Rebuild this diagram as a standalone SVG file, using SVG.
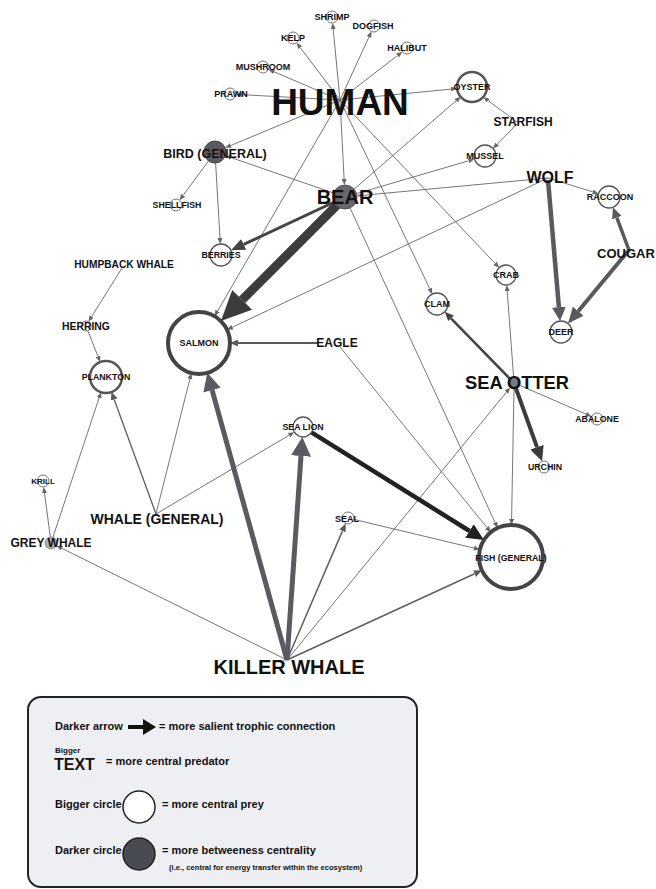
<svg xmlns="http://www.w3.org/2000/svg" width="656" height="889" viewBox="0 0 656 889">
<style>
text{font-family:"Liberation Sans",Arial,sans-serif;font-weight:bold;fill:#111;text-anchor:middle}
.e{stroke:#666;stroke-width:0.9;fill:none}
.n{fill:#fff;stroke:#666;stroke-width:0.9}
.nm{fill:#fff;stroke:#555;stroke-width:1.3}
.lg{text-anchor:start}
</style>
<defs>
<marker id="ms" markerUnits="userSpaceOnUse" viewBox="0 0 6 5" markerWidth="6" markerHeight="5" refX="0" refY="2.5" orient="auto"><path d="M0,0L6,2.5L0,5z" fill="#666"/></marker>
<marker id="mm" markerUnits="userSpaceOnUse" viewBox="0 0 8 7" markerWidth="8" markerHeight="7" refX="0" refY="3.5" orient="auto"><path d="M0,0L8,3.5L0,7z" fill="#5a5a5a"/></marker>
<marker id="mbb" markerUnits="userSpaceOnUse" viewBox="0 0 14 12" markerWidth="14" markerHeight="12" refX="0" refY="6" orient="auto"><path d="M0,0L14,6L0,12z" fill="#444"/></marker>
<marker id="mbs" markerUnits="userSpaceOnUse" viewBox="0 0 30 28" markerWidth="30" markerHeight="28" refX="0" refY="14" orient="auto"><path d="M0,0L30,14L0,28z" fill="#3c3c3e"/></marker>
<marker id="mwd" markerUnits="userSpaceOnUse" viewBox="0 0 14 14" markerWidth="14" markerHeight="14" refX="0" refY="7" orient="auto"><path d="M0,0L14,7L0,14z" fill="#5a5a5e"/></marker>
<marker id="mcr" markerUnits="userSpaceOnUse" viewBox="0 0 11 10" markerWidth="11" markerHeight="10" refX="0" refY="5" orient="auto"><path d="M0,0L11,5L0,10z" fill="#5a5a5e"/></marker>
<marker id="mcd" markerUnits="userSpaceOnUse" viewBox="0 0 16 14" markerWidth="16" markerHeight="14" refX="0" refY="7" orient="auto"><path d="M0,0L16,7L0,14z" fill="#5a5a5e"/></marker>
<marker id="msc" markerUnits="userSpaceOnUse" viewBox="0 0 9 8" markerWidth="9" markerHeight="8" refX="0" refY="4" orient="auto"><path d="M0,0L9,4L0,8z" fill="#444"/></marker>
<marker id="msu" markerUnits="userSpaceOnUse" viewBox="0 0 15 14" markerWidth="15" markerHeight="14" refX="0" refY="7" orient="auto"><path d="M0,0L15,7L0,14z" fill="#3c3c3e"/></marker>
<marker id="mks" markerUnits="userSpaceOnUse" viewBox="0 0 18 18" markerWidth="18" markerHeight="18" refX="0" refY="9" orient="auto"><path d="M0,0L18,9L0,18z" fill="#5a5a60"/></marker>
<marker id="mkl" markerUnits="userSpaceOnUse" viewBox="0 0 19 20" markerWidth="19" markerHeight="20" refX="0" refY="10" orient="auto"><path d="M0,0L19,10L0,20z" fill="#5a5a60"/></marker>
<marker id="mlf" markerUnits="userSpaceOnUse" viewBox="0 0 17 16" markerWidth="17" markerHeight="16" refX="0" refY="8" orient="auto"><path d="M0,0L17,8L0,16z" fill="#222"/></marker>
</defs>
<rect width="656" height="889" fill="#fff"/>
<g id="connectors">
<g class="e" marker-end="url(#ms)">
<line x1="340" y1="100" x2="333.2" y2="29"/>
<line x1="340" y1="100" x2="369" y2="36.9"/>
<line x1="340" y1="100" x2="300.2" y2="47.6"/>
<line x1="340" y1="100" x2="397.6" y2="55.4"/>
<line x1="340" y1="100" x2="274" y2="71.8"/>
<line x1="340" y1="100" x2="242" y2="94.7"/>
<line x1="340" y1="100" x2="451.1" y2="89.1"/>
<line x1="340" y1="100" x2="230.7" y2="145.5"/>
<line x1="340" y1="100" x2="344.1" y2="179"/>
<line x1="340" y1="100" x2="217.6" y2="311"/>
<line x1="340" y1="100" x2="429.7" y2="288.7"/>
<line x1="340" y1="100" x2="495" y2="263.3"/>
<line x1="517" y1="122" x2="488.1" y2="100.6"/>
<line x1="517" y1="124" x2="497.2" y2="144.2"/>
<line x1="345" y1="197" x2="456.2" y2="100.7"/>
<line x1="345" y1="197" x2="468.6" y2="160.8"/>
<line x1="345" y1="197" x2="495.1" y2="522.5"/>
<line x1="345" y1="197" x2="231.1" y2="157.6"/>
<line x1="208.5" y1="160.9" x2="183.1" y2="195.4"/>
<line x1="215.6" y1="163" x2="220" y2="238"/>
<line x1="548" y1="178" x2="363" y2="195.3"/>
<line x1="548" y1="178" x2="232.4" y2="327.2"/>
<line x1="548" y1="178" x2="592.8" y2="191.9"/>
<line x1="122" y1="268" x2="91.7" y2="316.6"/>
<line x1="87.8" y1="330.7" x2="98" y2="356.5"/>
<line x1="340" y1="347" x2="487" y2="527.6"/>
<line x1="513.6" y1="377" x2="507.2" y2="291"/>
<line x1="514" y1="389" x2="511.6" y2="519"/>
<line x1="519" y1="385" x2="586" y2="414.2"/>
<line x1="287" y1="660" x2="506.4" y2="392.2"/>
<line x1="287" y1="660" x2="61.8" y2="548.3"/>
<line x1="50.3" y1="537" x2="44.5" y2="493"/>
<line x1="52.9" y1="537.3" x2="99.1" y2="397.9"/>
<line x1="156" y1="514" x2="189.9" y2="378.9"/>
<line x1="156" y1="514" x2="289.2" y2="435.2"/>
<line x1="353.8" y1="519.4" x2="474" y2="548.1"/>
</g>
<line x1="156" y1="514" x2="114.2" y2="399.5" stroke="#5e5e5e" stroke-width="1.3" marker-end="url(#mm)"/>
<line x1="287" y1="660" x2="342.5" y2="530.9" stroke="#5e5e5e" stroke-width="1.5" marker-end="url(#mm)"/>
<line x1="287" y1="660" x2="474.6" y2="573.7" stroke="#5e5e5e" stroke-width="1.5" marker-end="url(#mm)"/>
<line x1="318" y1="343" x2="238" y2="343" stroke="#5a5a5a" stroke-width="2" marker-end="url(#mm)"/>
<line x1="340" y1="202" x2="242.1" y2="299.9" stroke="#3c3c3e" stroke-width="9" marker-end="url(#mbs)"/>
<line x1="345" y1="197" x2="243.7" y2="244.4" stroke="#444" stroke-width="3" marker-end="url(#mbb)"/>
<line x1="548" y1="180" x2="558.9" y2="307.1" stroke="#5a5a5e" stroke-width="4.5" marker-end="url(#mwd)"/>
<line x1="629" y1="250" x2="616.8" y2="217.6" stroke="#5a5a5e" stroke-width="3.5" marker-end="url(#mcr)"/>
<line x1="629" y1="250" x2="578.2" y2="311.2" stroke="#5a5a5e" stroke-width="4" marker-end="url(#mcd)"/>
<line x1="514" y1="383" x2="451" y2="318.3" stroke="#444" stroke-width="2.5" marker-end="url(#msc)"/>
<line x1="514" y1="383" x2="537" y2="447.2" stroke="#3c3c3e" stroke-width="4" marker-end="url(#msu)"/>
<line x1="287" y1="660" x2="212.1" y2="390.2" stroke="#5a5a60" stroke-width="5" marker-end="url(#mks)"/>
<line x1="287" y1="660" x2="301" y2="456" stroke="#5a5a60" stroke-width="5" marker-end="url(#mkl)"/>
<line x1="311.5" y1="432.3" x2="469.5" y2="531" stroke="#222" stroke-width="4.5" marker-end="url(#mlf)"/>
</g>
<g id="human"><text x="340" y="115" font-size="37">HUMAN</text></g>
<g id="shrimp"><circle class="n" cx="332" cy="17" r="6"/><text x="332" y="20" font-size="9">SHRIMP</text></g>
<g id="dogfish"><circle class="n" cx="374" cy="26" r="6"/><text x="373" y="29" font-size="9">DOGFISH</text></g>
<g id="kelp"><circle class="n" cx="293" cy="38" r="6"/><text x="293" y="41" font-size="9">KELP</text></g>
<g id="halibut"><circle class="n" cx="407" cy="48" r="6"/><text x="407" y="51" font-size="9">HALIBUT</text></g>
<g id="mushroom"><circle class="n" cx="263" cy="67" r="6"/><text x="263" y="70" font-size="9">MUSHROOM</text></g>
<g id="prawn"><circle class="n" cx="230" cy="94" r="6"/><text x="231" y="97" font-size="9">PRAWN</text></g>
<g id="oyster"><circle cx="472" cy="87" r="15" fill="#fff" stroke="#555" stroke-width="2.5"/><text x="472" y="90" font-size="9">OYSTER</text></g>
<g id="starfish"><text x="523" y="126" font-size="12">STARFISH</text></g>
<g id="mussel"><circle class="nm" cx="485" cy="156" r="11"/><text x="485" y="159" font-size="9">MUSSEL</text></g>
<g id="wolf"><text x="550" y="183" font-size="16">WOLF</text></g>
<g id="raccoon"><circle class="nm" cx="609" cy="197" r="11"/><text x="610" y="200" font-size="9">RACCOON</text></g>
<g id="cougar"><text x="626" y="258" font-size="13">COUGAR</text></g>
<g id="crab"><circle class="nm" cx="506" cy="275" r="10"/><text x="506" y="278" font-size="9">CRAB</text></g>
<g id="clam"><circle class="nm" cx="437" cy="304" r="11"/><text x="437" y="307" font-size="9">CLAM</text></g>
<g id="deer"><circle class="nm" cx="561" cy="332" r="11"/><text x="561" y="335" font-size="9">DEER</text></g>
<g id="bird"><circle cx="215" cy="152" r="11" fill="#5c5c60" stroke="#444" stroke-width="1"/><text x="215" y="158" font-size="12.5">BIRD (GENERAL)</text></g>
<g id="bear"><circle cx="345" cy="197" r="12" fill="#68686c" stroke="#555" stroke-width="1"/><text x="345" y="204" font-size="20">BEAR</text></g>
<g id="shellfish"><circle class="n" cx="176" cy="205" r="6"/><text x="177" y="208" font-size="8.8">SHELLFISH</text></g>
<g id="berries"><circle class="nm" cx="221" cy="255" r="11"/><text x="221" y="258" font-size="8.8">BERRIES</text></g>
<g id="humpback"><text x="124" y="268" font-size="10.2">HUMPBACK WHALE</text></g>
<g id="herring"><circle class="n" cx="86" cy="326" r="5"/><text x="86" y="330" font-size="10.4">HERRING</text></g>
<g id="salmon"><circle cx="199" cy="343" r="31" fill="#fff" stroke="#444" stroke-width="4"/><text x="199" y="346" font-size="9">SALMON</text></g>
<g id="plankton"><circle cx="106" cy="377" r="16" fill="#fff" stroke="#555" stroke-width="2.5"/><text x="106" y="380" font-size="8.8">PLANKTON</text></g>
<g id="eagle"><text x="337" y="347" font-size="12">EAGLE</text></g>
<g id="seaotter"><circle cx="514" cy="383" r="6" fill="#7a7a7e" stroke="#666" stroke-width="0.8"/><text x="517" y="389" font-size="18.3">SEA OTTER</text></g>
<g id="abalone"><circle class="n" cx="597" cy="419" r="6"/><text x="597" y="422" font-size="8.8">ABALONE</text></g>
<g id="sealion"><circle class="nm" cx="303" cy="427" r="10"/><text x="303" y="430" font-size="8.8">SEA LION</text></g>
<g id="urchin"><circle class="n" cx="544" cy="467" r="6"/><text x="545" y="470" font-size="8.8">URCHIN</text></g>
<g id="krill"><circle class="n" cx="43" cy="481" r="6"/><text x="43" y="484" font-size="8">KRILL</text></g>
<g id="whalegeneral"><text x="157" y="524" font-size="14">WHALE (GENERAL)</text></g>
<g id="greywhale"><circle cx="51" cy="543" r="6" fill="#b0b0b0" stroke="#777" stroke-width="0.8"/><text x="51" y="547" font-size="12">GREY WHALE</text></g>
<g id="seal"><circle class="n" cx="348" cy="518" r="6"/><text x="347" y="522" font-size="9">SEAL</text></g>
<g id="fish"><circle cx="511" cy="557" r="32" fill="#fff" stroke="#444" stroke-width="4"/><text x="511" y="561" font-size="8.8">FISH (GENERAL)</text></g>
<g id="killerwhale"><text x="289" y="674" font-size="20">KILLER WHALE</text></g>
<g id="legend">
<rect x="28" y="697" width="389" height="190" rx="13" fill="#eeeff3" stroke="#222" stroke-width="2"/>
<text class="lg" x="55" y="730" font-size="11">Darker arrow</text>
<line x1="128" y1="727" x2="145" y2="727" stroke="#111" stroke-width="4"/>
<path d="M143,719L156,727L143,735z" fill="#111"/>
<text class="lg" x="159" y="730" font-size="11">= more salient trophic connection</text>
<text class="lg" x="55" y="753" font-size="8">Bigger</text>
<text class="lg" x="54" y="770" font-size="16">TEXT</text>
<text class="lg" x="106" y="765" font-size="11">= more central predator</text>
<text class="lg" x="55" y="808" font-size="11">Bigger circle</text>
<circle cx="139" cy="807" r="16" fill="#fff" stroke="#222" stroke-width="1.5"/>
<text class="lg" x="162" y="808" font-size="11">= more central prey</text>
<text class="lg" x="55" y="854" font-size="11">Darker circle</text>
<circle cx="139" cy="854" r="16" fill="#4a4b52" stroke="#222" stroke-width="1.5"/>
<text class="lg" x="162" y="854" font-size="11">= more betweeness centrality</text>
<text class="lg" x="169" y="870" font-size="7.6">(i.e., central for energy transfer within the ecosystem)</text>
</g>
</svg>
